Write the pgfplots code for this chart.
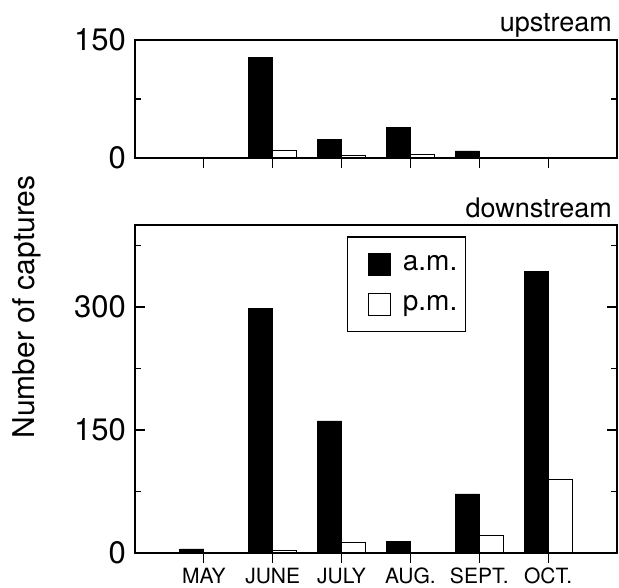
\documentclass[border=0pt]{standalone}
\usepackage{fontspec}
\setmainfont{TeX Gyre Heros}
\usepackage{pgfplots}
\pgfplotsset{compat=1.18}

\pgfplotsset{
  panel/.style={
    scale only axis, width=241pt,
    xmin=0, xmax=7, xtick={1,...,6},
    xtick pos=bottom, xtick align=outside,
    ytick pos=both, ytick align=inside,
    major tick length=5pt, minor tick length=3pt,
    tick style={black, line width=0.6pt},
    axis line style={line width=0.7pt},
    /pgf/number format/assume math mode=true,
    yticklabel style={font=\fontsize{15.5}{15.5}\selectfont, xshift=-1pt},
    ybar, bar width=0.35,
    clip=false,
  },
  ambar/.style={fill=black, draw=black, bar shift=-0.175},
  pmbar/.style={fill=white, draw=black, line width=0.6pt, bar shift=0.175},
}

\begin{document}
\begin{tikzpicture}
\path[use as bounding box] (-67.5pt,-17pt) rectangle (242pt,276.5pt);
% downstream
\begin{axis}[panel, at={(0,0)}, anchor=south west, height=164pt,
  ymin=0, ymax=400, ytick={0,150,300}, minor ytick={75,225,375},
  xticklabels={MAY,JUNE,JULY,AUG.,SEPT.,OCT.},
  xticklabel style={font=\fontsize{10.5}{10.5}\selectfont, yshift=1pt},
  legend style={at={(axis cs:3.08,386)}, anchor=north west, draw=black,
    line width=0.6pt,
    font=\fontsize{14}{14}\selectfont, row sep=7pt,
    inner xsep=2pt, inner ysep=7pt},
  legend cell align=left,
  legend image code/.code={
    \path (0pt,0pt) (23pt,0pt);
    \draw[#1, bar shift=0pt] (8pt,-5.5pt) rectangle (19pt,5.5pt);},
  ]
\addplot[ambar] coordinates {(1,5) (2,298) (3,161) (4,14) (5,72) (6,343)};
\addplot[pmbar] coordinates {(1,0) (2,3) (3,13) (4,0) (5,21) (6,90)};
\legend{a.m., p.m.}
\node[anchor=base east, font=\fontsize{13.5}{13.5}\selectfont] at (rel axis cs:1,1) [yshift=4pt, xshift=1pt] {downstream};
\end{axis}
% upstream
\begin{axis}[panel, at={(0,197.5pt)}, anchor=south west, height=59pt,
  ymin=0, ymax=150, ytick={0,150}, minor ytick={75},
  xticklabels={},
  ]
\addplot[ambar] coordinates {(1,0) (2,128) (3,24) (4,39) (5,9) (6,0)};
\addplot[pmbar] coordinates {(1,0) (2,10) (3,3) (4,4) (5,0) (6,0)};
\node[anchor=base east, font=\fontsize{13.5}{13.5}\selectfont] at (rel axis cs:1,1) [yshift=4pt, xshift=1pt] {upstream};
\end{axis}
\node[rotate=90, font=\fontsize{15}{15}\selectfont] at (-54pt,123pt) {Number of captures};
\end{tikzpicture}
\end{document}
